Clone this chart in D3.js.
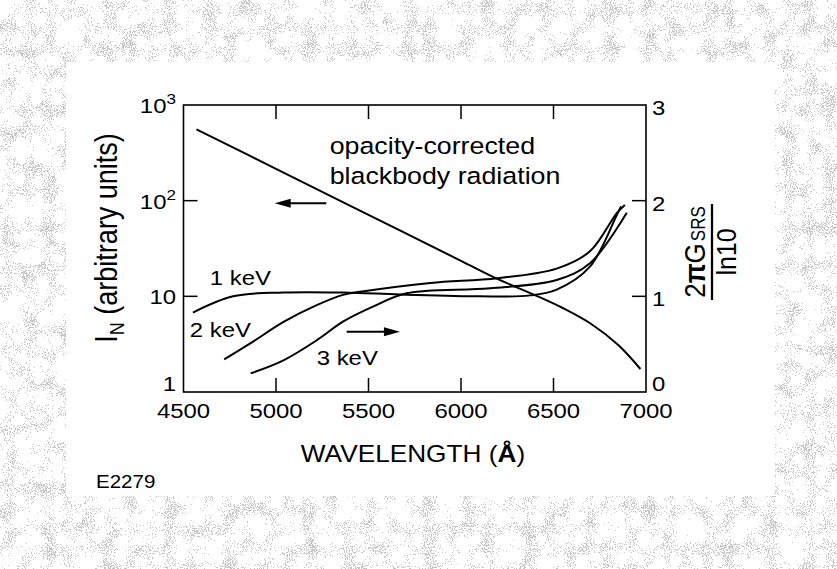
<!DOCTYPE html>
<html lang="en">

<head>
    <meta charset="UTF-8">
    <script src="https://cdn.jsdelivr.net/npm/d3@7"></script>
    <title>Blackbody and SRS gain</title>
    <style>
        body {
            margin: 0;
            background: white;
        }

        text {
            font-family: "Liberation Sans", Arial, sans-serif;
            fill: black;
        }

        .curve {
            fill: none;
            stroke: black;
            stroke-width: 2px;
        }
    </style>
</head>

<body>
    <div id="chart"></div>
    <script>
        const W = 837, H = 569;

        // wavelength (A) and intensity for the blackbody line (left axis)
        const bb_lambda = [4570, 5000, 5500, 6000, 6200, 6400, 6550, 6700, 6850, 6970];
        const bb_intensity = [557, 215, 71, 23.5, 15.1, 10.3, 7.55, 5.2, 3.1, 1.74];

        // 2 pi G_SRS / ln10 (right axis)
        const kev1_lambda = [4551, 4768, 5038, 5362, 5670, 6103, 6373, 6517, 6697, 6842, 6865];
        const kev1_gain = [0.83, 1.0, 1.04, 1.04, 1.02, 1.0, 1.01, 1.07, 1.31, 1.85, 1.94];

        const kev2_lambda = [4720, 4863, 5043, 5223, 5362, 5465, 5835, 6197, 6517, 6697, 6842, 6886];
        const kev2_gain = [0.34, 0.51, 0.735, 0.91, 1.015, 1.05, 1.14, 1.19, 1.29, 1.47, 1.87, 1.955];

        const kev3_lambda = [4863, 5043, 5223, 5362, 5524, 5706, 6157, 6517, 6697, 6896];
        const kev3_gain = [0.195, 0.334, 0.544, 0.735, 0.892, 1.032, 1.084, 1.171, 1.345, 1.874];

        const x_ticks = [4500, 5000, 5500, 6000, 6500, 7000];
        const left_ticks = [1, 10, 100, 1000];
        const left_labels = [["1", ""], ["10", ""], ["10", "2"], ["10", "3"]];
        const right_ticks = [0, 1, 2, 3];

        const svg = d3.select("#chart").append("svg")
            .attr("width", W)
            .attr("height", H)
            .attr("viewBox", `0 0 ${W} ${H}`);

        // speckled halftone border round the page
        const defs = svg.append("defs");
        const f = defs.append("filter").attr("id", "speck")
            .attr("filterUnits", "userSpaceOnUse")
            .attr("x", 0).attr("y", 0).attr("width", W).attr("height", H);
        f.append("feTurbulence").attr("type", "fractalNoise").attr("baseFrequency", 0.95)
            .attr("numOctaves", 1).attr("seed", 4).attr("result", "fine");
        f.append("feColorMatrix").attr("in", "fine").attr("type", "matrix")
            .attr("values", "1 0 0 0 0  0 1 0 0 0  0 0 1 0 0  0 0 0 0 1").attr("result", "fine1");
        f.append("feTurbulence").attr("type", "fractalNoise").attr("baseFrequency", 0.05)
            .attr("numOctaves", 2).attr("seed", 9).attr("result", "coarse");
        f.append("feColorMatrix").attr("in", "coarse").attr("type", "matrix")
            .attr("values", "1 0 0 0 0  0 1 0 0 0  0 0 1 0 0  0 0 0 0 1").attr("result", "coarse1");
        f.append("feComposite").attr("in", "fine1").attr("in2", "coarse1").attr("operator", "arithmetic")
            .attr("k1", 0).attr("k2", 1).attr("k3", 0.5).attr("k4", -0.25).attr("result", "mix");
        f.append("feColorMatrix").attr("in", "mix").attr("type", "matrix")
            .attr("values", "0 0 0 0 0.45  0 0 0 0 0.45  0 0 0 0 0.45  14 0 0 0 -8.3");
        const ct = f.append("feComponentTransfer");
        ct.append("feFuncA").attr("type", "discrete").attr("tableValues", "0 0.75");

        svg.append("rect").attr("width", W).attr("height", H).attr("fill", "white");
        svg.append("rect").attr("width", W).attr("height", H).attr("filter", "url(#speck)");
        svg.append("rect")
            .attr("x", 66).attr("y", 62)
            .attr("width", 709).attr("height", 434)
            .attr("fill", "white");

        const plot = { left: 183.5, right: 646, top: 105, bottom: 392 };

        const x = d3.scaleLinear().domain([4500, 7000]).range([plot.left, plot.right]);
        const yL = d3.scaleLog().domain([1, 1000]).range([plot.bottom, plot.top]);
        const yR = d3.scaleLinear().domain([0, 3]).range([plot.bottom, plot.top]);

        const stretch = 1.14;
        const tlen = 14;

        // frame
        svg.append("rect")
            .attr("x", plot.left).attr("y", plot.top)
            .attr("width", plot.right - plot.left)
            .attr("height", plot.bottom - plot.top)
            .attr("fill", "none")
            .attr("stroke", "black")
            .attr("stroke-width", 1.6);

        const g = svg.append("g");

        // inward ticks on all four sides
        const inner_x = x_ticks.slice(1, -1);
        g.selectAll(".xb").data(inner_x).enter().append("line")
            .attr("x1", d => x(d)).attr("x2", d => x(d))
            .attr("y1", plot.bottom).attr("y2", plot.bottom - tlen)
            .attr("stroke", "black").attr("stroke-width", 1.5);
        g.selectAll(".xt").data(inner_x).enter().append("line")
            .attr("x1", d => x(d)).attr("x2", d => x(d))
            .attr("y1", plot.top).attr("y2", plot.top + tlen)
            .attr("stroke", "black").attr("stroke-width", 1.5);
        g.selectAll(".yl").data(left_ticks.slice(1, -1)).enter().append("line")
            .attr("x1", plot.left).attr("x2", plot.left + tlen)
            .attr("y1", d => yL(d)).attr("y2", d => yL(d))
            .attr("stroke", "black").attr("stroke-width", 1.5);
        g.selectAll(".yr").data(right_ticks.slice(1, -1)).enter().append("line")
            .attr("x1", plot.right).attr("x2", plot.right - tlen)
            .attr("y1", d => yR(d)).attr("y2", d => yR(d))
            .attr("stroke", "black").attr("stroke-width", 1.5);

        // tick labels
        g.selectAll(".xl").data(x_ticks).enter().append("text")
            .attr("transform", d => `translate(${x(d)},418) scale(${stretch},1)`)
            .attr("text-anchor", "middle")
            .style("font-size", "21px")
            .text(d => d);

        const ll = g.selectAll(".ll").data(left_ticks).enter().append("text")
            .attr("transform", d => `translate(176,${d === 1 ? yL(d) - 1 : yL(d) + 8}) scale(${stretch},1)`)
            .attr("text-anchor", "end")
            .style("font-size", "21px");
        ll.append("tspan").text((d, i) => left_labels[i][0]);
        ll.append("tspan").attr("dy", -9).style("font-size", "15px").text((d, i) => left_labels[i][1]);

        g.selectAll(".rl").data(right_ticks).enter().append("text")
            .attr("transform", d => `translate(652,${d === 0 ? yR(d) - 1 : yR(d) + 10}) scale(${stretch},1)`)
            .style("font-size", "21px")
            .text(d => d);

        // axis titles
        svg.append("text")
            .attr("transform", `translate(413,462) scale(${stretch},1)`)
            .attr("text-anchor", "middle")
            .style("font-size", "23px")
            .html('WAVELENGTH (<tspan font-weight="bold">Å</tspan>)');

        const lt = svg.append("text")
            .attr("transform", `translate(117,238) scale(${stretch},1) rotate(-90)`)
            .attr("text-anchor", "middle")
            .style("font-size", "27px");
        lt.append("tspan").text("I");
        lt.append("tspan").attr("dy", 6).style("font-size", "18px").text("N");
        lt.append("tspan").attr("dy", -6).text(" (arbitrary units)");

        const rt = svg.append("g")
            .attr("transform", `translate(712,252) scale(${stretch},1) rotate(-90)`);
        const num = rt.append("text")
            .attr("y", -6)
            .attr("text-anchor", "middle")
            .style("font-size", "26px");
        num.append("tspan").text("2");
        num.append("tspan").style("font-weight", "bold").text("π");
        num.append("tspan").text("G");
        num.append("tspan").style("font-size", "17px").attr("dx", 2).text("SRS");
        rt.append("line")
            .attr("x1", -48).attr("x2", 48)
            .attr("stroke", "black").attr("stroke-width", 2);
        rt.append("text")
            .attr("y", 21)
            .attr("text-anchor", "middle")
            .style("font-size", "25px")
            .text("ln10");

        // curves
        const bb_line = d3.line()
            .x((d, i) => x(bb_lambda[i]))
            .y(d => yL(d))
            .curve(d3.curveCatmullRom);

        const gain_line = lambdas => d3.line()
            .x((d, i) => x(lambdas[i]))
            .y(d => yR(d))
            .curve(d3.curveCatmullRom);

        g.append("path").attr("class", "curve").attr("d", bb_line(bb_intensity));
        g.append("path").attr("class", "curve").attr("d", gain_line(kev1_lambda)(kev1_gain));
        g.append("path").attr("class", "curve").attr("d", gain_line(kev2_lambda)(kev2_gain));
        g.append("path").attr("class", "curve").attr("d", gain_line(kev3_lambda)(kev3_gain));

        // annotations
        const note = (txt, px, py, size) => svg.append("text")
            .attr("transform", `translate(${px},${py}) scale(${stretch},1)`)
            .style("font-size", size + "px")
            .text(txt);

        note("1 keV", x(4642), yR(1.118), 21);
        note("2 keV", x(4534), yR(0.572), 21);
        note("3 keV", x(5220), yR(0.282), 21);
        note("opacity-corrected", x(5290), yL(307.6), 23.5);
        note("blackbody radiation", x(5290), yL(149), 23.5);
        note("E2279", 96, 488, 18);

        // arrows
        const arrow = (x1, x2, y) => {
            const dir = Math.sign(x2 - x1);
            svg.append("line")
                .attr("x1", x1).attr("x2", x2 - dir * 8)
                .attr("y1", y).attr("y2", y)
                .attr("stroke", "black").attr("stroke-width", 2);
            svg.append("path")
                .attr("d", `M${x2},${y} L${x2 - dir * 16},${y - 4.5} L${x2 - dir * 16},${y + 4.5} Z`)
                .attr("fill", "black");
        };
        arrow(x(5272), x(4993), yL(93.8));
        arrow(x(5382), x(5670), yR(0.63));
    </script>
</body>

</html>
